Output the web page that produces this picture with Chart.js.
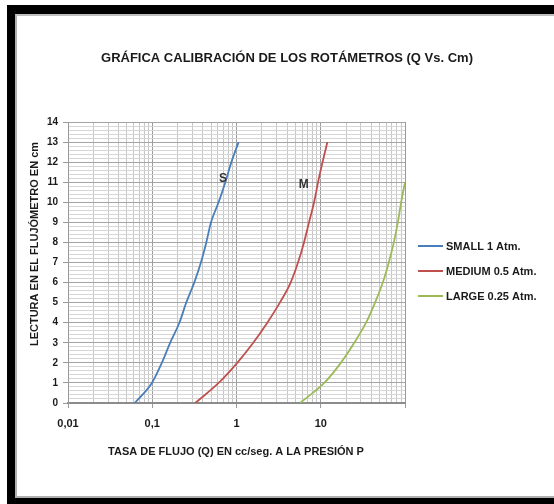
<!DOCTYPE html>
<html>
<head>
<meta charset="utf-8">
<title>Gráfica calibración de los rotámetros</title>
<script src="https://cdn.jsdelivr.net/npm/chart.js@4.4.1/dist/chart.umd.min.js"></script>
<style>
  html, body { margin: 0; padding: 0; background: #fff; }
  #wrap { position: relative; width: 554px; height: 504px; overflow: hidden; }
  #chart { position: absolute; left: 0; top: 0; }
  #frame {
    position: absolute; left: 7px; top: 5px; width: 560px; height: 499px;
    box-sizing: border-box;
    border-left: 8px solid #000; border-top: 9px solid #000; border-bottom: 6px solid #000;
    pointer-events: none;
  }
  #frame::after {
    content: ""; position: absolute; left: 0; top: 0; right: 0; bottom: 0;
    border-left: 2px solid #b0b0b0; border-top: 2px solid #c0c0c0; border-bottom: 2px solid #b0b0b0;
  }
</style>
</head>
<body>
<div id="wrap">
  <canvas id="chart" width="554" height="504"></canvas>
  <div id="frame"></div>
</div>
<script>
// Rotameter readings (cm) and flow rates (cc/s) at the stated pressure
const readingsSmall  = [0, 1, 2, 3, 4, 5, 6, 7, 8, 9, 10, 11, 12, 13];
const flowSmall      = [0.062, 0.099, 0.130, 0.163, 0.210, 0.253, 0.315, 0.378, 0.438, 0.498, 0.613, 0.737, 0.869, 1.06];
const readingsMedium = [0, 1, 2, 3, 4, 5, 6, 7, 8, 9, 10, 11, 12, 13];
const flowMedium     = [0.324, 0.614, 1.02, 1.58, 2.32, 3.27, 4.39, 5.37, 6.33, 7.26, 8.33, 9.29, 10.5, 12.0];
const readingsLarge  = [0, 1, 2, 3, 4, 5, 6, 7, 8, 9, 10, 11];
const flowLarge      = [5.68, 11.0, 17.3, 25.0, 34.5, 44.1, 54.5, 64.2, 73.7, 82.2, 90.0, 100];

const seriesLabels = ['SMALL 1 Atm.', 'MEDIUM 0.5 Atm.', 'LARGE 0.25 Atm.'];
const xDecades = [0.01, 0.1, 1, 10, 100];
const xDecadeLabels = ['0,01', '0,1', '1', '10', ''];
const yMax = 14;

const colors = ['#4a7ebb', '#c0504d', '#9bbb59'];
const FONT = '"Liberation Sans", Arial, sans-serif';

function toPoints(xs, ys) { return xs.map((x, i) => ({ x: x, y: ys[i] })); }

// log grid: 1..9 × each decade
const xTickValues = [];
for (let d = 0; d < xDecades.length - 1; d++) {
  for (let m = 1; m <= 9; m++) xTickValues.push(+(xDecades[d] * m).toPrecision(3));
}
xTickValues.push(xDecades[xDecades.length - 1]);

// linear grid every 0.2 cm
const yTickValues = [];
for (let i = 0; i <= yMax * 5; i++) yTickValues.push(+(i * 0.2).toFixed(1));

const isDecade = v => xDecades.some(d => Math.abs(v / d - 1) < 1e-6);
const isInteger = v => Math.abs(v - Math.round(v)) < 1e-6;

const textPlugin = {
  id: 'chartTexts',
  afterDraw(chart) {
    const ctx = chart.ctx;
    const xs = chart.scales.x, ys = chart.scales.y;
    ctx.save();
    ctx.fillStyle = '#1a1a1a';
    ctx.textAlign = 'center';
    ctx.textBaseline = 'middle';
    ctx.font = 'bold 13px ' + FONT;
    ctx.fillText('GRÁFICA CALIBRACIÓN DE LOS ROTÁMETROS (Q Vs. Cm)', 287, 58);

    ctx.font = 'bold 11px ' + FONT;
    ctx.fillText('TASA DE FLUJO (Q) EN cc/seg. A LA PRESIÓN P', 236, 452);

    ctx.save();
    ctx.translate(35, 244);
    ctx.rotate(-Math.PI / 2);
    ctx.fillText('LECTURA EN EL FLUJÓMETRO EN cm', 0, 0);
    ctx.restore();

    // curve markers
    ctx.font = 'bold 12px ' + FONT;
    ctx.fillStyle = '#333';
    ctx.fillText('S', xs.getPixelForValue(0.69), ys.getPixelForValue(11.2));
    ctx.fillText('M', xs.getPixelForValue(6.3), ys.getPixelForValue(10.9));

    // legend
    ctx.font = 'bold 11px ' + FONT;
    ctx.textAlign = 'left';
    const legendY = [246, 271, 296];
    chart.data.datasets.forEach((ds, i) => {
      ctx.strokeStyle = ds.borderColor;
      ctx.lineWidth = 2;
      ctx.beginPath();
      ctx.moveTo(418, legendY[i]);
      ctx.lineTo(443, legendY[i]);
      ctx.stroke();
      ctx.fillStyle = '#1a1a1a';
      ctx.fillText(ds.label, 446, legendY[i] + 1);
    });
    ctx.restore();
  }
};

new Chart(document.getElementById('chart'), {
  type: 'scatter',
  data: {
    datasets: [
      { label: seriesLabels[0], data: toPoints(flowSmall, readingsSmall), borderColor: colors[0] },
      { label: seriesLabels[1], data: toPoints(flowMedium, readingsMedium), borderColor: colors[1] },
      { label: seriesLabels[2], data: toPoints(flowLarge, readingsLarge), borderColor: colors[2] }
    ].map(ds => Object.assign(ds, {
      showLine: true, pointRadius: 0, borderWidth: 1.8,
      cubicInterpolationMode: 'monotone', fill: false
    }))
  },
  options: {
    responsive: false,
    animation: false,
    devicePixelRatio: 1,
    layout: { padding: { left: 46, right: 149, top: 122, bottom: 71 } },
    plugins: { legend: { display: false }, tooltip: { enabled: false }, title: { display: false } },
    scales: {
      x: {
        type: 'logarithmic',
        min: 0.01, max: 100,
        afterBuildTicks: s => { s.ticks = xTickValues.map(v => ({ value: v, major: isDecade(v) })); },
        afterFit: s => { s.height = 30; },
        ticks: {
          autoSkip: false, maxRotation: 0, padding: 9,
          color: '#1a1a1a',
          font: { family: FONT, size: 11, weight: 'bold' },
          callback: v => { const i = xDecades.findIndex(d => Math.abs(v / d - 1) < 1e-6); return i >= 0 ? xDecadeLabels[i] : ''; }
        },
        grid: {
          color: c => isDecade(c.tick.value) ? '#9a9a9a' : '#c6c6c6',
          lineWidth: 1,
          tickLength: 5,
          tickColor: c => isDecade(c.tick.value) ? '#9a9a9a' : 'rgba(0,0,0,0)'
        },
        border: { color: '#8c8c8c', width: 2 }
      },
      y: {
        type: 'linear',
        min: 0, max: yMax,
        afterBuildTicks: s => { s.ticks = yTickValues.map(v => ({ value: v })); },
        afterFit: s => { s.width = 22; },
        ticks: {
          autoSkip: false, padding: 5,
          color: '#1a1a1a',
          font: { family: FONT, size: 10, weight: 'bold' },
          callback: v => isInteger(v) ? String(Math.round(v)) : ''
        },
        grid: {
          color: c => isInteger(c.tick.value) ? '#a4a4a4' : '#d6d6d6',
          lineWidth: 1,
          tickLength: 5,
          tickColor: c => isInteger(c.tick.value) ? '#9a9a9a' : 'rgba(0,0,0,0)'
        },
        border: { color: '#9a9a9a', width: 1 }
      }
    }
  },
  plugins: [textPlugin]
});
</script>
</body>
</html>
